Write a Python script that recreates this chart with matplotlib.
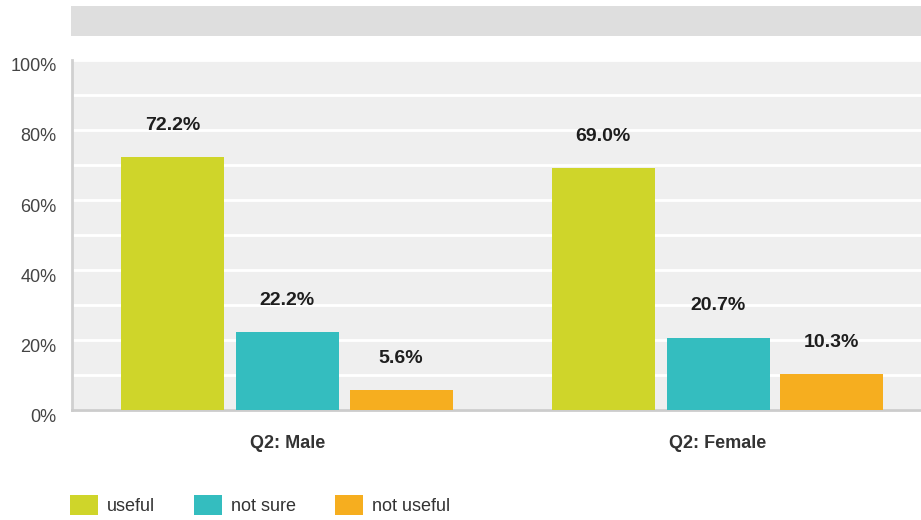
import matplotlib.pyplot as plt
import numpy as np
from matplotlib.patches import Rectangle, Patch
from matplotlib.ticker import MultipleLocator, FuncFormatter
from matplotlib.transforms import ScaledTranslation

# --- data ---
categories = ['Q2: Male', 'Q2: Female']
series_names = ['useful', 'not sure', 'not useful']
useful = [72.2, 69.0]
not_sure = [22.2, 20.7]
not_useful = [5.6, 10.3]
series_colors = ['#CFD52A', '#34BDBF', '#F6AE1F']

plt.rcParams['font.family'] = ['Liberation Sans', 'DejaVu Sans']

W, H = 921, 520
fig = plt.figure(figsize=(W / 100, H / 100), dpi=100)

# grey header strip above the plot
fig.patches.append(Rectangle((71 / W, 1 - 36 / H), (W - 71) / W, 30 / H,
                             transform=fig.transFigure, facecolor='#DEDEDE',
                             edgecolor='none', zorder=0))

ax = fig.add_axes([72 / W, 110 / H, (W - 72) / W, 350 / H])
ax.set_facecolor('#EFEFEF')

x = np.arange(len(categories))
width = 0.239
offsets = [-0.267, 0.0, 0.264]
for vals, name, col, off in zip([useful, not_sure, not_useful], series_names,
                                series_colors, offsets):
    bars = ax.bar(x + off, vals, width, color=col, label=name, zorder=3)
    for b, v in zip(bars, vals):
        ax.annotate(f'{v:.1f}%', (b.get_x() + b.get_width() / 2, v),
                    xytext=(0, 23), textcoords='offset points',
                    ha='center', va='center', fontsize=14,
                    fontweight='bold', color='#1E1E1E', zorder=4)

ax.set_ylim(0, 100)
ax.set_xlim(-0.5, 1 + (W - 718) / 431)
ax.yaxis.set_major_locator(MultipleLocator(20))
ax.yaxis.set_minor_locator(MultipleLocator(10))
ax.yaxis.set_major_formatter(FuncFormatter(lambda v, p: f'{v:.0f}%'))
ax.grid(axis='y', which='both', color='white', linewidth=2, zorder=1)
ax.set_axisbelow(True)

ax.set_xticks(x)
ax.set_xticklabels(categories, fontsize=13, fontweight='bold', color='#333333')
ax.tick_params(axis='x', length=0, pad=18)
ax.tick_params(axis='y', which='both', length=0, pad=11, labelsize=13,
               labelcolor='#444444')
for lab in ax.get_yticklabels():
    lab.set_transform(lab.get_transform() +
                      ScaledTranslation(0, -5 / 100, fig.dpi_scale_trans))

for s in ['top', 'right']:
    ax.spines[s].set_visible(False)
ax.spines['left'].set_color('#D0D0D0')
ax.spines['left'].set_linewidth(2)
ax.spines['bottom'].set_color('#CCCCCC')
ax.spines['bottom'].set_linewidth(2)

handles = [Patch(facecolor=c, edgecolor='none') for c in series_colors]
fig.legend(handles, series_names, loc='center left',
           bbox_to_anchor=(54 / W, 1 - 505 / H), ncol=3, frameon=False,
           fontsize=13, handlelength=1.55, handleheight=1.4,
           handletextpad=0.5, columnspacing=2.15, labelcolor='#333333')

fig.savefig('out.png', dpi=100)
